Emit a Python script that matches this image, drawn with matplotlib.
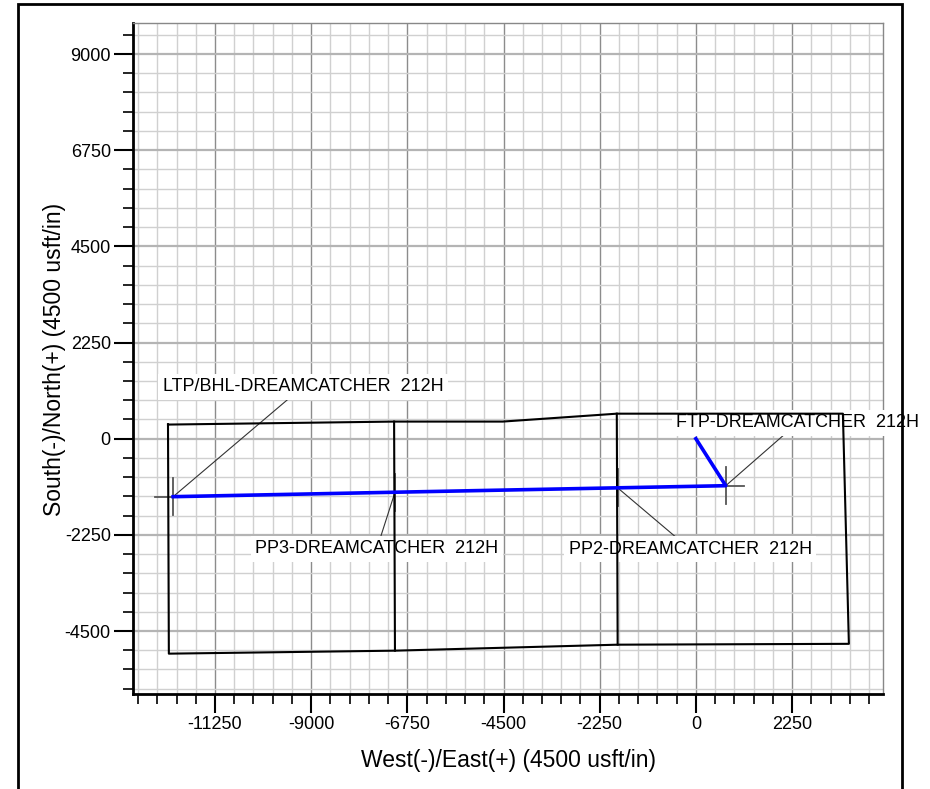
import matplotlib
matplotlib.use("Agg")
import matplotlib.pyplot as plt
from matplotlib.patches import Rectangle
from matplotlib.ticker import MultipleLocator

plt.rcParams["font.family"] = ["Liberation Sans", "DejaVu Sans"]

# lease / section outline (usft)
outline_x = [-12350, -7060, -4520, -1850, 3440, 3580, -1830, -7040, -12330, -12350]
outline_y = [330, 400, 400, 585, 585, -4800, -4820, -4960, -5030, 330]
sec_pp3_x = [-7060, -7040]
sec_pp3_y = [400, -4960]
sec_pp2_x = [-1850, -1830]
sec_pp2_y = [585, -4820]

# well path: surface -> FTP -> PP2 -> PP3 -> LTP/BHL
well_x = [0, 700, -1830, -7040, -12230]
well_y = [0, -1100, -1150, -1253, -1357]

# targets and label positions
target_names = ["LTP/BHL-DREAMCATCHER  212H", "PP3-DREAMCATCHER  212H",
                "PP2-DREAMCATCHER  212H", "FTP-DREAMCATCHER  212H"]
target_x = [-12230, -7040, -1830, 700]
target_y = [-1357, -1253, -1150, -1100]
label_x = [-9195, -7464, -129, 2387]
label_y = [1217, -2574, -2590, 374]

xticks = [-11250, -9000, -6750, -4500, -2250, 0, 2250]
yticks = [-4500, -2250, 0, 2250, 4500, 6750, 9000]
XLIM = (-13169, 4379)
YLIM = (-5974, 9725)
CROSS = 430

fig = plt.figure(figsize=(9.3, 7.89), dpi=100)
ax = fig.add_axes([0.1430, 0.1204, 0.8065, 0.8504])

ax.set_xlim(*XLIM); ax.set_ylim(*YLIM)
ax.set_xticks(xticks); ax.set_yticks(yticks)
ax.set_xticklabels([str(v) for v in xticks])
ax.set_yticklabels([str(v) for v in yticks])
ax.xaxis.set_minor_locator(MultipleLocator(450))
ax.yaxis.set_minor_locator(MultipleLocator(450))

ax.set_axisbelow(True)
ax.grid(True, which="minor", color="#d0d0d0", lw=1.0, zorder=0)
ax.xaxis.grid(True, which="major", color="#8c8c8c", lw=1.0)
ax.yaxis.grid(True, which="major", color="#b4b4b4", lw=1.6)

ax.tick_params(which="major", direction="out", length=14, width=1.5,
               labelsize=13, pad=2, color="black")
ax.tick_params(which="minor", direction="out", length=7, width=1.2, color="black")
for s in ["left", "bottom"]:
    ax.spines[s].set_linewidth(2); ax.spines[s].set_color("black")
for s in ["top", "right"]:
    ax.spines[s].set_linewidth(1); ax.spines[s].set_color("#888888")

# outline and section lines
ax.plot(outline_x, outline_y, color="black", lw=1.5, zorder=4)
ax.plot(sec_pp3_x, sec_pp3_y, color="black", lw=1.5, zorder=4)
ax.plot(sec_pp2_x, sec_pp2_y, color="black", lw=1.5, zorder=4)

# target crosses
for tx, ty in zip(target_x, target_y):
    ax.plot([tx - CROSS, tx + CROSS], [ty, ty], color="#555555", lw=1.3, zorder=3.5)
    ax.plot([tx, tx], [ty - CROSS, ty + CROSS], color="#555555", lw=1.3, zorder=3.5)

# well path
ax.plot(well_x, well_y, color="#0000ff", lw=2.6, zorder=5)

# labels with leader lines
for name, tx, ty, lx, ly in zip(target_names, target_x, target_y, label_x, label_y):
    ax.annotate(name, xy=(tx, ty), xytext=(lx, ly), textcoords="data",
                ha="center", va="center", fontsize=13, zorder=3,
                annotation_clip=False,
                bbox=dict(boxstyle="square,pad=0.25", fc="white", ec="none"),
                arrowprops=dict(arrowstyle="-", color="#333333", lw=0.8,
                                shrinkA=0, shrinkB=0))

fig.text(508 / 930, 1 - 760 / 789, "West(-)/East(+) (4500 usft/in)",
         ha="center", va="center", fontsize=16.5)
fig.text(55 / 930, 1 - 359 / 789, "South(-)/North(+) (4500 usft/in)",
         ha="center", va="center", rotation=90, fontsize=16.5)

# outer frame
fig.patches.append(Rectangle((18 / 930, -0.05), (902 - 18) / 930, 1.05 - 4 / 789,
                             transform=fig.transFigure, fill=False,
                             ec="black", lw=2, zorder=10))

fig.savefig("out.png", dpi=100)
